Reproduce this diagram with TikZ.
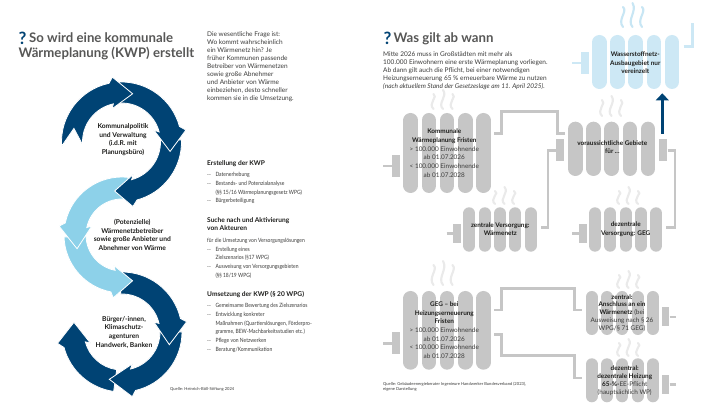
\documentclass[tikz,border=0pt]{standalone}
\usepackage{fontspec}
\usepackage{xcolor}
\usetikzlibrary{arrows.meta}
\setmainfont{Lato}
\newfontfamily\narrowfont[FakeStretch=0.86]{Lato}
\definecolor{NavyBlue}{HTML}{004374}
\definecolor{SkyBlue}{HTML}{8DD1E9}
\definecolor{RadGrey}{HTML}{C6C6C6}
\definecolor{RadBlue}{HTML}{CDE8F5}
\definecolor{SteamGrey}{HTML}{EAEAEA}
\definecolor{SteamBlue}{HTML}{C8E6F4}
\definecolor{TitleGrey}{HTML}{575756}
\definecolor{BodyGrey}{HTML}{3C3C3B}
\definecolor{InkDark}{HTML}{1D1D1B}
\newcommand{\dashitem}{\makebox[8.3pt][l]{--}}
\newcommand{\dashgap}{\hspace*{8.3pt}}
\begin{document}
\begin{tikzpicture}[x=1pt,y=-1pt,every node/.style={inner sep=0pt,text=InkDark},
titletext/.style={font=\fontsize{13.2}{15.7}\selectfont\bfseries,text=TitleGrey,anchor=north west,align=left},
markq/.style={font=\fontsize{17}{17}\selectfont\bfseries,text=NavyBlue,anchor=west},
bodytext/.style={font=\fontsize{6.5}{8}\selectfont,text=BodyGrey,anchor=north west,align=left},
headtext/.style={font=\fontsize{6.6}{8.7}\selectfont\bfseries,anchor=north west,align=left},
listtext/.style={font=\narrowfont\fontsize{5.8}{8.67}\selectfont,text=BodyGrey,anchor=north west,align=left},
ringtext/.style={font=\fontsize{6.7}{8.7}\selectfont\bfseries,align=center},
radtext/.style={font=\fontsize{6.4}{8.67}\selectfont,text=BodyGrey,align=center},
srctext/.style={font=\fontsize{4.1}{5.3}\selectfont,text=BodyGrey,anchor=north west,align=left},
stub/.style={fill=RadGrey,minimum width=8.2pt,minimum height=22pt},
smallstub/.style={fill=RadGrey,minimum width=7.8pt,minimum height=19pt},
pipe/.style={draw=RadGrey,line width=2.6pt,line join=miter},
riser/.style={-{Triangle[width=12.7pt,length=7pt]},draw=NavyBlue,line width=2.8pt}]
\useasboundingbox (0,0) rectangle (728,419);
\fill[white] (0,0) rectangle (728,419);
% left side: the three rings, last arrow first so each head lies on the next tail
\foreach \cx/\cy/\ri/\ro/\st/\en/\bo/\bi/\ti/\no/\col in {122/332/38/60/98/165/170/160.6/191.4/98/NavyBlue,122/332/38/60/0/77/81/72/105/0/NavyBlue,122/332/38/60/268/347/351/343/15/268/NavyBlue,122/235/36/58/178/101/98/105/77/178/SkyBlue,122/235/36/58/276/192/188/196.5/163/276/SkyBlue,121.5/142/39/60/-2/75/80/70/98/-2/NavyBlue,121.5/142/39/60/268/345/349.5/340/11/268/NavyBlue,121.5/142/39/60/176/258/262/254/283/196/NavyBlue}
{\filldraw[fill=\col,draw=white,line width=.8pt,shift={(\cx,\cy)}] (\st:\ro) arc[start angle=\st,end angle=\en,radius=\ro] -- (\bo:{\ro+5.5}) -- (\ti:{(\ri+\ro)/2}) -- (\bi:{\ri-4.5}) -- (\en:\ri) arc[start angle=\en,end angle=\st,radius=\ri] -- (\no:{(\ri+\ro)/2}) -- cycle;}
\node[markq] (leftq) at (18.5,38.5) {?};
\node[titletext] (lefttitle) at (18.5,32) {\hspace*{10.5pt}So wird eine kommunale\\Wärmeplanung (KWP) erstellt};
\node[bodytext] (intro) at (207,31.5) {Die wesentliche Frage ist:\\Wo kommt wahrscheinlich\\ein Wärmenetz hin? Je\\früher Kommunen passende\\Betreiber von Wärmenetzen\\sowie große Abnehmer\\und Anbieter von Wärme\\einbeziehen, desto schneller\\kommen sie in die Umsetzung.};
\node[ringtext] (politik) at (123,139.5) {Kommunalpolitik\\und Verwaltung\\(i.d.R. mit\\Planungsbüro)};
\node[ringtext] (betreiber) at (132.3,235) {(Potenzielle)\\Wärmenetzbetreiber\\sowie große Anbieter und\\Abnehmer von Wärme};
\node[ringtext] (buerger) at (124,332.3) {Bürger/-innen,\\Klimaschutz-\\agenturen\\Handwerk, Banken};
\node[headtext] (head1) at (207,160.5) {Erstellung der KWP};
\node[listtext] (list1) at (207,172.5) {\dashitem Datenerhebung\\\dashitem Bestands- und Potenzialanalyse\\\dashgap(§§ 15/16 Wärmeplanungsgesetz WPG)\\\dashitem Bürgerbeteiligung};
\node[headtext] (head2) at (207,217) {Suche nach und Aktivierung\\von Akteuren};
\node[listtext] (list2) at (207,238) {für die Umsetzung von Versorgungslösungen\\\dashitem Erstellung eines\\\dashgap Zielszenarios (§17 WPG)\\\dashitem Ausweisung von Versorgungsgebieten\\\dashgap(§§ 18/19 WPG)};
\node[headtext] (head3) at (207,291.5) {Umsetzung der KWP (§ 20 WPG)};
\node[listtext] (list3) at (207,303.5) {\dashitem Gemeinsame Bewertung des Zielszenarios\\\dashitem Entwicklung konkreter\\\dashgap Maßnahmen (Quartierslösungen, Förderpro-\\\dashgap gramme, BEW-Machbarkeitsstudien etc.)\\\dashitem Pflege von Netzwerken\\\dashitem Beratung/Kommunikation};
\node[srctext] (srcleft) at (170,387) {Quelle: Heinrich-Böll-Stiftung 2024};
% right side: steam, then the radiators
\foreach \sx/\sy/\sh/\col in {620/3/24/SteamBlue,430.5/90/19/SteamGrey,599/96/20/SteamGrey,492/187/17/SteamGrey,616/187/17/SteamGrey,430.5/261/24/SteamGrey,616/271/17/SteamGrey,616/339/17/SteamGrey}
{\foreach \i/\dy in {0/4,1/0,2/4}
{\draw[\col,line width=2.1pt,line cap=round] ({\sx+3+\i*9.5},{\sy+\sh}) .. controls ({\sx-3+\i*9.5},{\sy+\sh*.7}) and ({\sx+8+\i*9.5},{\sy+\sh*.35}) .. ({\sx+3+\i*9.5},{\sy+\dy});}}
\foreach \rx/\rtop/\rbot/\rib/\pitch/\col in {592/35/89/14.6/18.2/RadBlue,403.3/113/193/14.6/18.2/RadGrey,568/121.7/176/14.6/18.2/RadGrey,463.3/207.3/251.7/12/15.3/RadGrey,589/207.3/251.7/12/15.3/RadGrey,403.3/291/369.7/14.6/18.2/RadGrey,585.7/291/335/12/15.3/RadGrey,585.7/358.3/402.3/12/15.3/RadGrey}
{\foreach \i in {0,...,4}
{\draw[\col,line width=\rib pt,line cap=round] ({\rx+\rib/2+\i*\pitch},{\rtop+\rib/2}) -- ({\rx+\rib/2+\i*\pitch},{\rbot-\rib/2});}}
\node[markq] (rightq) at (383.5,38.5) {?};
\node[titletext] (righttitle) at (393.3,32) {Was gilt ab wann};
\node[bodytext] (para) at (383,51.8) {Mitte 2026 muss in Großstädten mit mehr als\\100.000 Einwohnern eine erste Wärmeplanung vorliegen.\\Ab dann gilt auch die Pflicht, bei einer notwendigen\\Heizungserneuerung 65 \% erneuerbare Wärme zu nutzen\\\textit{(nach aktuellem Stand der Gesetzeslage am 11. April 2025).}};
% stubs
\node[stub,fill=RadBlue] (h2in) at (585,63) {};
\node[stub] (kwpin) at (395.8,166) {};
\node[stub] (gebietin) at (559.8,150.5) {};
\node[stub] (gebietout) at (663.2,150.5) {};
\node[smallstub] (fernin) at (457.3,233.5) {};
\node[smallstub] (dezin) at (582.8,233.5) {};
\node[stub] (gegin) at (395.8,343.5) {};
\node[smallstub] (anschlout) at (665.4,317) {};
\node[smallstub] (heizout) at (665.4,384.3) {};
% free ends of the pipes
\coordinate (h2feed) at (572,63);
\coordinate (h2tail) at (683.5,46.7);
\coordinate (h2top) at (692.3,23);
\coordinate (kwpfeed) at (383,166);
\coordinate (kwptail) at (494,133.3);
\coordinate (gebietlet) at (565,133.3);
\coordinate (fernfeed) at (446.7,233.5);
\coordinate (ferntail) at (540.7,227.3);
\coordinate (dezfeed) at (572,233.5);
\coordinate (deztail) at (665.7,227.3);
\coordinate (gegfeed) at (383,343.5);
\coordinate (gegtailA) at (494,310);
\coordinate (gegtailB) at (494,334.7);
\coordinate (anschllet) at (582.3,310);
\coordinate (heizlet) at (582.3,378);
\coordinate (anschlend) at (675.7,317);
\coordinate (heizend) at (675.7,384.3);
\coordinate (riserfoot) at (662.3,134);
\coordinate (risertip) at (662.3,93.3);
\draw[pipe,RadBlue] (h2feed) -- (h2in.west);
\draw[pipe,RadBlue] (h2tail) -| (h2top);
\draw[pipe] (kwpfeed) -- (kwpin.west);
\draw[pipe] (kwptail) -- ++(7.7,0) |- (557.3,111.7) |- (gebietlet);
\draw[pipe] (gebietin.west) -- ++(-7.5,0) |- (ferntail);
\draw[pipe] (gebietout.east) -- ++(7.5,0) |- (deztail);
\draw[pipe] (fernfeed) -- (fernin.west);
\draw[pipe] (dezfeed) -- (dezin.west);
\draw[pipe] (gegfeed) -- (gegin.west);
\draw[pipe] (gegtailA) -- ++(7.7,0) |- (574.7,288.3) |- (anschllet);
\draw[pipe] (gegtailB) -- ++(7.7,0) |- (574.7,355.7) |- (heizlet);
\draw[pipe] (anschlout.east) -- (anschlend);
\draw[pipe] (heizout.east) -- (heizend);
\draw[riser] (riserfoot) -- (risertip);
% radiator labels
\node[radtext,font=\fontsize{6.4}{8.67}\selectfont\bfseries,text=InkDark] (wasserstoff) at (635.3,62.7) {Wasserstoffnetz-\\Ausbaugebiet nur\\vereinzelt};
\node[radtext] (kwpfrist) at (444.3,153) {\textbf{\textcolor{InkDark}{Kommunale}}\\\textbf{\textcolor{InkDark}{Wärmeplanung Fristen}}\\> 100.000 Einwohnende\\ab 01.07.2026\\< 100.000 Einwohnende\\ab 01.07.2028};
\node[radtext,font=\fontsize{6.4}{8.67}\selectfont\bfseries,text=InkDark] (gebiete) at (612.3,147) {voraussichtliche Gebiete\\für ...};
\node[radtext,font=\fontsize{6.4}{8.67}\selectfont\bfseries,text=InkDark] (zentrversorg) at (500.3,229) {zentrale Versorgung:\\Wärmenetz};
\node[radtext,font=\fontsize{6.4}{8.67}\selectfont\bfseries,text=InkDark] (dezversorg) at (625.7,229) {dezentrale\\Versorgung: GEG};
\node[radtext] (gegfrist) at (444.3,330) {\textbf{\textcolor{InkDark}{GEG -- bei}}\\\textbf{\textcolor{InkDark}{Heizungserneuerung}}\\\textbf{\textcolor{InkDark}{Fristen}}\\> 100.000 Einwohnende\\ab 01.07.2026\\< 100.000 Einwohnende\\ab 01.07.2028};
\node[radtext,font=\fontsize{6.4}{7.95}\selectfont] (anschluss) at (622,313) {\textbf{\textcolor{InkDark}{zentral:}}\\\textbf{\textcolor{InkDark}{Anschluss an ein}}\\\textbf{\textcolor{InkDark}{Wärmenetz}} (bei\\Ausweisung nach § 26\\WPG/§ 71 GEG)};
\node[radtext,font=\fontsize{6.4}{7.95}\selectfont] (heizung) at (624.7,380.7) {\textbf{\textcolor{InkDark}{dezentral:}}\\\textbf{\textcolor{InkDark}{dezentrale Heizung}}\\\textbf{\textcolor{InkDark}{65-\%-}}EE-Pflicht\\(hauptsächlich WP)};
\node[srctext] (srcright) at (383,382) {Quelle: Gebäudeenergieberater Ingenieure Handwerker Bundesverband (2023),\\eigene Darstellung};
\end{tikzpicture}
\end{document}
